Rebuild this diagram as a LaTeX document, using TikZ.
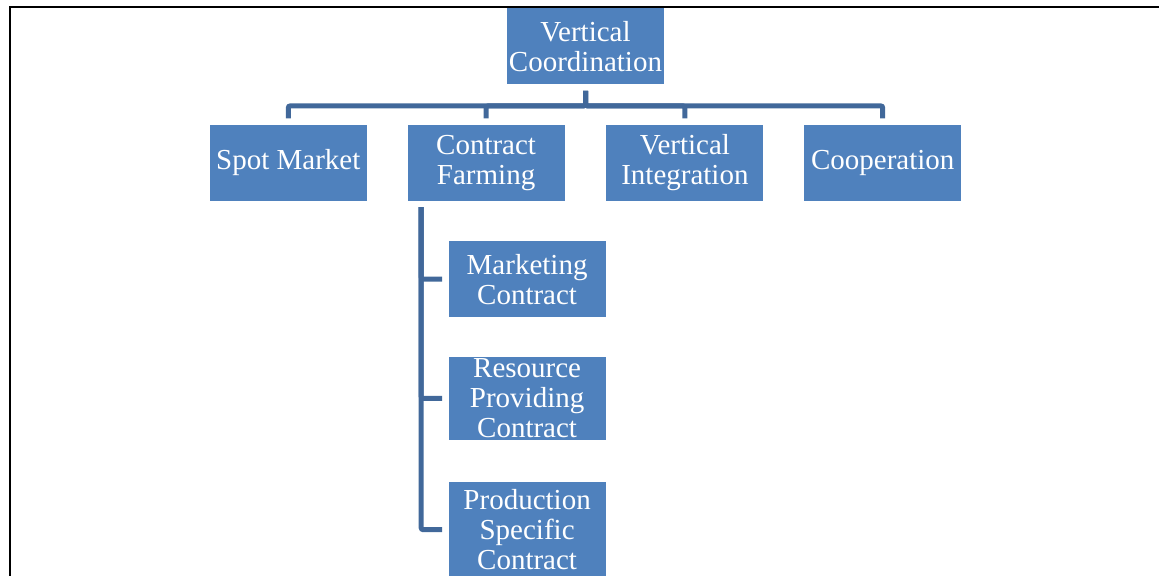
\documentclass[tikz,border=0pt]{standalone}
\usepackage{fontspec}
\setmainfont{Liberation Serif}
\usetikzlibrary{positioning}
\definecolor{boxblue}{RGB}{79,129,189}
\definecolor{lineblue}{RGB}{65,104,154}
\tikzstyle{vbox}=[rectangle, fill=boxblue, text=white, inner sep=0pt,
                  minimum width=78.5pt, minimum height=38pt, align=center,
                  font=\fontsize{14.5pt}{15pt}\selectfont]
\tikzstyle{pline}=[-, line width=2.5pt, draw=lineblue, rounded corners=1pt,
                   shorten <=3pt, shorten >=3pt]

\begin{document}
\begin{tikzpicture}[node distance=20pt]

\useasboundingbox (0,0) rectangle (579.5pt,-288pt);
\draw[line width=1pt] (579.5pt,-3.5pt) -- (5pt,-3.5pt) -- (5pt,-288pt);

\node (VC) [vbox] at (292.75pt,-23.25pt) {Vertical\\Coordination};

\node (CF) [vbox, below left=19.75pt and 10.25pt of VC.south] {Contract\\Farming};
\node (VI) [vbox, below right=19.75pt and 10.25pt of VC.south] {Vertical\\Integration};
\node (SPOT) [vbox, left=20pt of CF] {Spot Market};
\node (COOP) [vbox, right=20pt of VI] {Cooperation};

 \draw[pline] (VC.south) -- ++(0,-10.5pt) -| (SPOT.north);
 \draw[pline] (VC.south) -- ++(0,-10.5pt) -| (CF.north);
 \draw[pline] (VC.south) -- ++(0,-10.5pt) -| (VI.north);
 \draw[pline] (VC.south) -- ++(0,-10.5pt) -| (COOP.north);

\node (MC) [vbox, below right=19.75pt and 20.5pt of CF.south west] {Marketing\\Contract};
\node (RPC) [vbox, minimum height=41.5pt, below=19.5pt of MC] {Resource\\Providing\\Contract};
\node (PSC) [vbox, minimum height=48pt, below=20.5pt of RPC] {Production\\Specific\\Contract};

 \draw[pline] ([xshift=7pt]CF.south west) |- (MC.west);
 \draw[pline] ([xshift=7pt]CF.south west) |- (RPC.west);
 \draw[pline] ([xshift=7pt]CF.south west) |- (PSC.west);

\end{tikzpicture}
\end{document}
